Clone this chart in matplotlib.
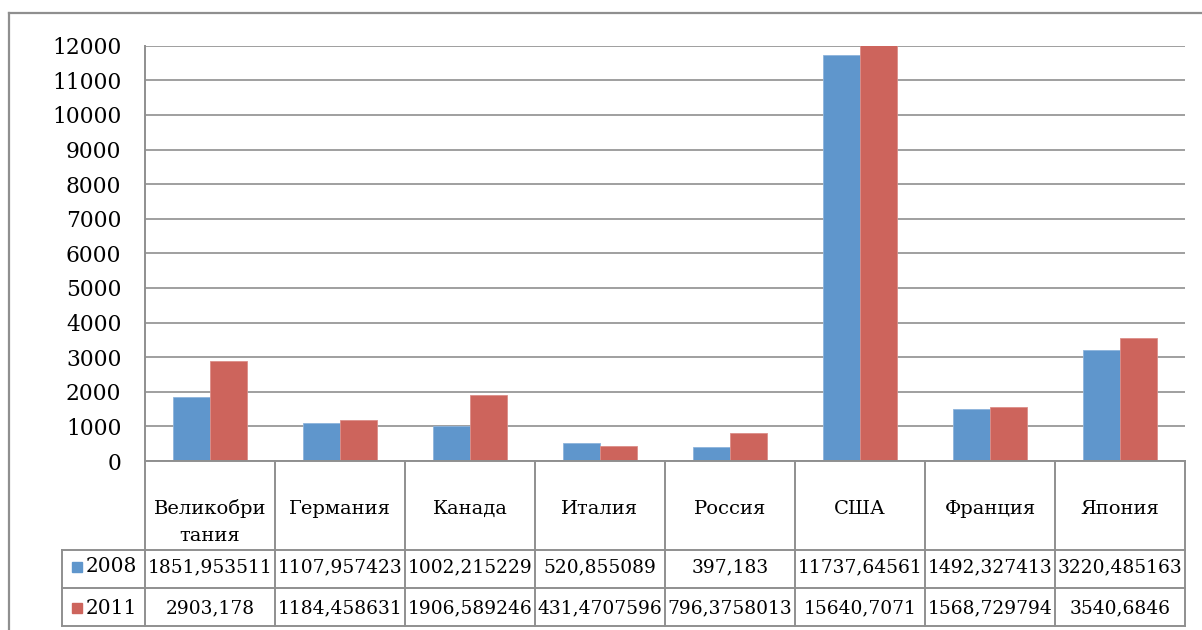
import numpy as np
import matplotlib as mpl
mpl.use('Agg')
import matplotlib.pyplot as plt
from matplotlib.lines import Line2D
from matplotlib.patches import Rectangle

# countries (header of the data table, wrapped as in the sheet)
countries = ['Великобри\nтания', 'Германия', 'Канада', 'Италия',
             'Россия', 'США', 'Франция', 'Япония']
years = ['2008', '2011']
values_2008 = [1851.953511, 1107.957423, 1002.215229, 520.855089,
               397.183, 11737.64561, 1492.327413, 3220.485163]
values_2011 = [2903.178, 1184.458631, 1906.589246, 431.4707596,
               796.3758013, 15640.7071, 1568.729794, 3540.6846]
y_ticks = np.arange(0, 12001, 1000)

blue = '#5f96cc'
red = '#cd645c'
grey = '#8f8f8f'

plt.rcParams['font.family'] = 'DejaVu Serif'

fig = plt.figure(figsize=(12.02, 6.30), dpi=100)
W, H = 1202.0, 630.0
ax = fig.add_axes([145 / W, 1 - 461 / H, 1040 / W, (461 - 45.7) / H])

x = np.arange(len(countries))
bw = 1 / 3.5
ax.bar(x - bw / 2, values_2008, bw, color=blue, edgecolor='#8db4dc',
       linewidth=0.6, zorder=3)
ax.bar(x + bw / 2, values_2011, bw, color=red, edgecolor='#dc8e88',
       linewidth=0.6, zorder=3)

ax.set_xlim(-0.5, len(countries) - 0.5)
ax.set_ylim(0, 12000)
ax.set_yticks(y_ticks)
ax.set_yticklabels([str(v) for v in y_ticks])
ax.tick_params(axis='y', length=0, pad=17, labelsize=15.7)
ax.set_xticks([])
ax.yaxis.grid(True, color=grey, linewidth=1.2, zorder=0)
for s in ['top', 'right', 'bottom']:
    ax.spines[s].set_visible(False)
ax.spines['left'].set_color(grey)
ax.spines['left'].set_linewidth(1.4)


# data table under the plot
def yf(px):
    return (461 - px) / (461 - 45.7)


def xf(px):
    return (px - 145) / 1040.0


tx = ax.get_xaxis_transform()
ta = ax.transAxes
lw = 1.4
bounds = np.arange(len(countries) + 1) - 0.5
for b in bounds:
    ax.add_line(Line2D([b, b], [yf(461), yf(626)], transform=tx,
                       color=grey, lw=lw, clip_on=False))
ax.add_line(Line2D([0, 1], [0, 0], transform=ta, color=grey, lw=lw,
                   clip_on=False, zorder=4))
for py in [550, 588, 626]:
    ax.add_line(Line2D([xf(62), 1], [yf(py), yf(py)], transform=ta,
                       color=grey, lw=lw, clip_on=False))
ax.add_line(Line2D([xf(62), xf(62)], [yf(550), yf(626)], transform=ta,
                   color=grey, lw=lw, clip_on=False))

for i, name in enumerate(countries):
    for k, part in enumerate(name.split('\n')):
        ax.text(i, yf(509 + 27 * k), part, transform=tx, ha='center',
                va='center', fontsize=14)

rows = [values_2008, values_2011]
row_y = [567, 608]
colors = [blue, red]
for r, vals in enumerate(rows):
    for i, v in enumerate(vals):
        ax.text(i, yf(row_y[r]), repr(v).replace('.', ','), transform=tx,
                ha='center', va='center', fontsize=13.4)
    ax.add_patch(Rectangle((xf(72), yf(row_y[r] + 5)), 10 / 1040.0,
                           yf(0) - yf(10), transform=ta, color=colors[r],
                           clip_on=False))
    ax.text(xf(86), yf(row_y[r]), years[r], transform=ta, ha='left',
            va='center', fontsize=14.5)

# outer chart frame
fig.add_artist(Line2D([9 / W, 9 / W], [0, 1 - 13 / H], transform=fig.transFigure,
                      color=grey, lw=1.6))
fig.add_artist(Line2D([9 / W, 1], [1 - 13 / H, 1 - 13 / H],
                      transform=fig.transFigure, color=grey, lw=1.6))

fig.savefig('out.png', dpi=100)
